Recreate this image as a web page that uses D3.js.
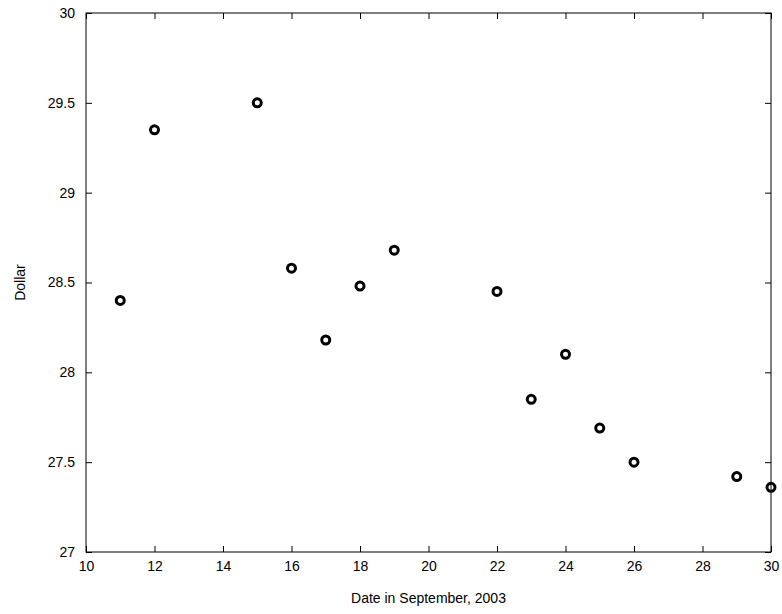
<!DOCTYPE html>
<html>
<head>
<meta charset="utf-8">
<script src="https://cdn.jsdelivr.net/npm/d3@7"></script>
<style>
  body { margin: 0; background: #fff; }
  text { font-family: "Liberation Sans", Arial, Helvetica, sans-serif; }
</style>
</head>
<body>
<svg id="chart" width="782" height="614"></svg>
<script>
// dates in September and the dollar price
var days = [11, 12, 15, 16, 17, 18, 19, 22, 23, 24, 25, 26, 29, 30]
var prices = [28.40, 29.35, 29.50, 28.58, 28.18, 28.48, 28.68, 28.45, 27.85, 28.10, 27.69, 27.50, 27.42, 27.36]
var xTicks = [10, 12, 14, 16, 18, 20, 22, 24, 26, 28, 30]
var yTicks = [27, 27.5, 28, 28.5, 29, 29.5, 30]

// plot box (note: "top" is taken by window, so use other names)
var boxLeft = 86, boxRight = 771, boxTop = 13, boxBottom = 552

var svg = d3.select("#chart")

var x = d3.scaleLinear().domain([10, 30]).range([boxLeft, boxRight])
var y = d3.scaleLinear().domain([27, 30]).range([boxBottom, boxTop])

// box
svg.append("rect")
    .attr("x", boxLeft).attr("y", boxTop)
    .attr("width", boxRight - boxLeft).attr("height", boxBottom - boxTop)
    .attr("fill", "none").attr("stroke", "#000").attr("stroke-width", 1)

// ticks inside, on all four sides
svg.append("g").attr("transform", "translate(0," + boxBottom + ")")
    .call(d3.axisBottom(x).tickValues(xTicks).tickSize(-6).tickPadding(9).tickFormat(d3.format("d")))
svg.append("g").attr("transform", "translate(0," + boxTop + ")")
    .call(d3.axisTop(x).tickValues(xTicks).tickSize(-6).tickFormat(""))
var yAxis = svg.append("g").attr("transform", "translate(" + boxLeft + ",0)")
    .call(d3.axisLeft(y).tickValues(yTicks).tickSize(-6).tickPadding(11).tickFormat(d => String(d)))
svg.append("g").attr("transform", "translate(" + boxRight + ",0)")
    .call(d3.axisRight(y).tickValues(yTicks).tickSize(-6).tickFormat(""))

svg.selectAll(".domain").remove()
svg.selectAll(".tick line").attr("stroke", "#000")
svg.selectAll(".tick text").attr("font-size", 14).attr("fill", "#000")

// points
svg.append("g").selectAll("circle")
    .data(days)
    .enter()
    .append("circle")
    .attr("cx", d => x(d))
    .attr("cy", (d, i) => y(prices[i]))
    .attr("r", 4)
    .attr("fill", "none")
    .attr("stroke", "#000")
    .attr("stroke-width", 3)

// axis labels
svg.append("text")
    .attr("x", (boxLeft + boxRight) / 2)
    .attr("y", 603)
    .attr("text-anchor", "middle")
    .attr("font-size", 14)
    .text("Date in September, 2003")

svg.append("text")
    .attr("transform", "translate(25," + ((boxTop + boxBottom) / 2) + ") rotate(-90)")
    .attr("text-anchor", "middle")
    .attr("font-size", 14)
    .text("Dollar")
</script>
</body>
</html>
